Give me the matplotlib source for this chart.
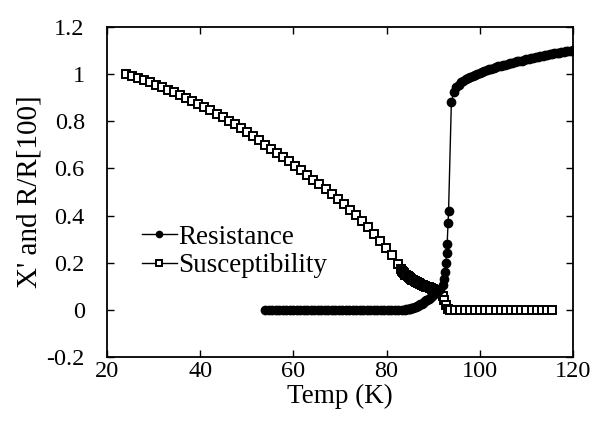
import numpy as np
import matplotlib
matplotlib.use("Agg")
import matplotlib.pyplot as plt

plt.rcParams["font.family"] = ["Liberation Serif", "DejaVu Serif"]

# susceptibility (open squares)
sus_t = [24.0, 25.3, 26.6, 27.9, 29.2, 30.5, 31.8, 33.1, 34.4, 35.7, 37.0, 38.3,
         39.6, 40.9, 42.2, 43.5, 44.8, 46.1, 47.4, 48.7, 50.0, 51.3, 52.6, 53.9,
         55.2, 56.5, 57.8, 59.1, 60.4, 61.7, 63.0, 64.3, 65.6, 66.9, 68.2, 69.5,
         70.8, 72.1, 73.4, 74.7, 76.0, 77.3, 78.6, 79.9, 81.2, 82.5,
         83.0, 83.25, 83.5, 83.75, 84.0, 84.25, 84.5, 84.75, 85.0, 85.25, 85.5, 85.75,
         86.0, 86.25, 86.5, 86.75, 87.0, 87.25, 87.5, 87.75, 88.0, 88.25, 88.5, 88.75,
         89.0, 89.25, 89.5, 89.75, 90.0, 90.25, 90.5, 90.75, 91.0, 91.25, 91.5,
         92.0, 92.4, 92.8, 93.2, 93.6,
         94.6, 95.7, 96.8, 97.9, 99.0, 100.1, 101.2, 102.3, 103.4, 104.5, 105.6,
         106.7, 107.8, 108.9, 110.0, 111.1, 112.2, 113.3, 114.4, 115.6]
sus_v = [1.000, 0.992, 0.984, 0.975, 0.966, 0.956, 0.946, 0.935, 0.924, 0.912, 0.900, 0.888,
         0.875, 0.861, 0.847, 0.833, 0.818, 0.802, 0.787, 0.770, 0.754, 0.736, 0.719, 0.701,
         0.684, 0.666, 0.648, 0.630, 0.611, 0.592, 0.573, 0.553, 0.533, 0.512, 0.491, 0.470,
         0.448, 0.425, 0.401, 0.376, 0.350, 0.323, 0.294, 0.264, 0.232, 0.195,
         0.175, 0.167, 0.160, 0.155, 0.150, 0.146, 0.142, 0.138, 0.135, 0.131, 0.128, 0.125,
         0.122, 0.119, 0.117, 0.114, 0.112, 0.109, 0.107, 0.105, 0.103, 0.101, 0.099, 0.097,
         0.095, 0.093, 0.091, 0.089, 0.087, 0.085, 0.083, 0.081, 0.079, 0.077, 0.074,
         0.060, 0.040, 0.020, 0.005, 0.0,
         0.0, 0.0, 0.0, 0.0, 0.0, 0.0, 0.0, 0.0, 0.0, 0.0, 0.0,
         0.0, 0.0, 0.0, 0.0, 0.0, 0.0, 0.0, 0.0, 0.0]

# normalised resistance (filled circles)
res_t = [54.0, 54.75, 55.5, 56.25, 57.0, 57.75, 58.5, 59.25, 60.0, 60.75, 61.5, 62.25,
         63.0, 63.75, 64.5, 65.25, 66.0, 66.75, 67.5, 68.25, 69.0, 69.75, 70.5, 71.25,
         72.0, 72.75, 73.5, 74.25, 75.0, 75.75, 76.5, 77.25, 78.0, 78.75, 79.5, 80.25,
         81.0, 81.75, 82.5, 83.25, 84.0,
         84.25, 84.5, 84.75, 85.0, 85.25, 85.5, 85.75, 86.0, 86.25, 86.5, 86.75, 87.0,
         87.25, 87.5, 87.75, 88.0, 88.25, 88.5, 88.75, 89.0, 89.25, 89.5, 89.75, 90.0,
         90.25, 90.5, 90.75, 91.0, 91.25, 91.5,
         92.0, 92.3, 92.5, 92.7, 92.9, 93.0, 93.2, 93.3,
         93.9, 94.4, 95.0, 95.5,
         96.0, 96.5, 97.0, 97.5, 98.0, 98.5, 99.0, 99.5, 100.0, 100.5, 101.0, 101.5,
         102.0, 102.5, 103.0, 103.5, 104.0, 104.5, 105.0, 105.5, 106.0, 106.5, 107.0,
         107.5, 108.0, 108.5, 109.0, 109.5, 110.0, 110.5, 111.0, 111.5, 112.0, 112.5,
         113.0, 113.5, 114.0, 114.5, 115.0, 115.5, 116.0, 116.5, 117.0, 117.5, 118.0,
         118.5, 119.0, 119.5, 120.0]
res_v = [0.0] * 41 + [
         0.002, 0.003, 0.004, 0.005, 0.006, 0.008, 0.010, 0.012, 0.014, 0.016, 0.018, 0.021,
         0.024, 0.027, 0.030, 0.033, 0.036, 0.040, 0.043, 0.047, 0.051, 0.055, 0.059, 0.063,
         0.067, 0.071, 0.075, 0.079, 0.084, 0.090,
         0.105, 0.130, 0.160, 0.200, 0.240, 0.280, 0.370, 0.420,
         0.880, 0.925, 0.945, 0.955,
         0.965, 0.972, 0.978, 0.984, 0.989, 0.994, 0.998, 1.002, 1.006, 1.010, 1.014, 1.018,
         1.021, 1.024, 1.027, 1.030, 1.033, 1.036, 1.039, 1.041, 1.044, 1.046, 1.049,
         1.051, 1.054, 1.056, 1.058, 1.061, 1.063, 1.065, 1.067, 1.069, 1.072, 1.074,
         1.076, 1.078, 1.080, 1.082, 1.084, 1.086, 1.088, 1.090, 1.091, 1.093, 1.095,
         1.097, 1.099, 1.100, 1.102]

xticks = [20, 40, 60, 80, 100, 120]
yticks = [-0.2, 0, 0.2, 0.4, 0.6, 0.8, 1, 1.2]


def main():
    fig = plt.figure(figsize=(6.06, 4.23), dpi=100)
    ax = fig.add_axes([0.1766, 0.156, 0.7689, 0.78])

    ax.plot(res_t, res_v, "-o", color="black", lw=1.0, ms=6.0, mfc="black",
            mec="black", label="Resistance", zorder=3)
    ax.plot(sus_t, sus_v, "-s", color="black", lw=1.0, ms=5.2, mfc="white",
            mec="black", mew=1.4, label="Susceptibility", zorder=2)

    ax.set_xlim(20, 120)
    ax.set_ylim(-0.2, 1.2)
    ax.set_xticks(xticks)
    ax.set_yticks(yticks)
    ax.set_yticklabels([f"{v:g}" for v in yticks])
    ax.tick_params(direction="in", top=True, right=True, length=5, width=1,
                   labelsize=17.5)
    ax.tick_params(axis="y", pad=16)
    ax.tick_params(axis="x", pad=3)
    for s in ax.spines.values():
        s.set_linewidth(1.3)

    ax.set_xlabel("Temp (K)", fontsize=19.5, labelpad=1)
    ax.set_ylabel("X' and R/R[100]", fontsize=21, labelpad=3)

    ax.legend(frameon=False, fontsize=19.5, loc="center left",
              bbox_to_anchor=(0.045, 0.32), handlelength=1.3,
              handletextpad=0.05, labelspacing=0.12, borderpad=0, markerscale=0.75)

    fig.savefig("out.png", dpi=100)


if __name__ == "__main__":
    main()
